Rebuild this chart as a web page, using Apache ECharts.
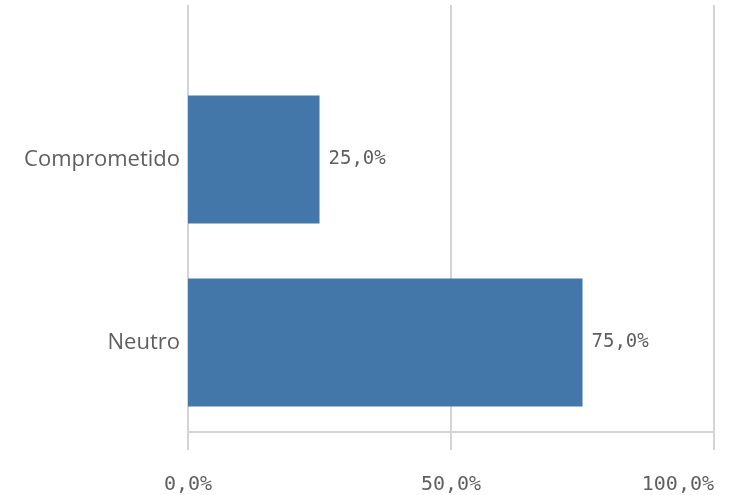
<!DOCTYPE html>
<html lang="pt">
<head>
    <meta charset="UTF-8">
    <title>Comprometido / Neutro</title>
    <script src="https://cdn.jsdelivr.net/npm/echarts@6/dist/echarts.min.js"></script>
    <style>
        html, body { margin: 0; padding: 0; background: #fff; }
        #chart { width: 730px; height: 495px; }
    </style>
</head>
<body>
<div id="chart"></div>
<script>
    // dados
    var categorias = ['Neutro', 'Comprometido'];
    var valores = [75, 25];
    var ticks = [0, 50, 100];

    var cinza = '#d4d4d4';
    var texto = '#5f5f5f';
    var mono = '"DejaVu Sans Mono", monospace';

    function pct(v) {
        return v.toFixed(1).replace('.', ',') + '%';
    }

    var myChart = echarts.init(document.getElementById('chart'));
    var option = {
        animation: false,
        grid: [
            // grade das linhas verticais (vai até o topo)
            { left: 188, right: 16, top: 5, bottom: 62 },
            // grade das barras
            { left: 188, right: 16, top: 68, bottom: 61 }
        ],
        xAxis: [{
            gridIndex: 0,
            type: 'value',
            min: ticks[0],
            max: ticks[ticks.length - 1],
            interval: ticks[1] - ticks[0],
            axisLine: { show: true, lineStyle: { color: cinza, width: 2 } },
            axisTick: { show: true, length: 18, lineStyle: { color: cinza, width: 2 } },
            splitLine: { show: true, lineStyle: { color: cinza, width: 2 } },
            axisLabel: {
                margin: 43,
                fontFamily: mono,
                fontSize: 20,
                color: texto,
                alignMaxLabel: 'right',
                formatter: function (v) { return pct(v); }
            }
        }, {
            gridIndex: 1,
            type: 'value',
            min: ticks[0],
            max: ticks[ticks.length - 1],
            show: false
        }],
        yAxis: [{
            gridIndex: 0,
            type: 'category',
            data: categorias,
            show: false
        }, {
            gridIndex: 1,
            type: 'category',
            data: categorias,
            axisLine: { show: false },
            axisTick: { show: false },
            axisLabel: {
                margin: 8,
                fontFamily: '"Open Sans"',
                fontSize: 22,
                color: texto
            }
        }],
        series: [{
            type: 'bar',
            xAxisIndex: 1,
            yAxisIndex: 1,
            data: valores,
            barWidth: '70%',
            itemStyle: { color: '#4477a9' },
            label: {
                show: true,
                position: 'right',
                distance: 9,
                fontFamily: mono,
                fontSize: 19,
                color: texto,
                formatter: function (p) { return pct(p.value); }
            }
        }]
    };
    myChart.setOption(option);
</script>
</body>
</html>
